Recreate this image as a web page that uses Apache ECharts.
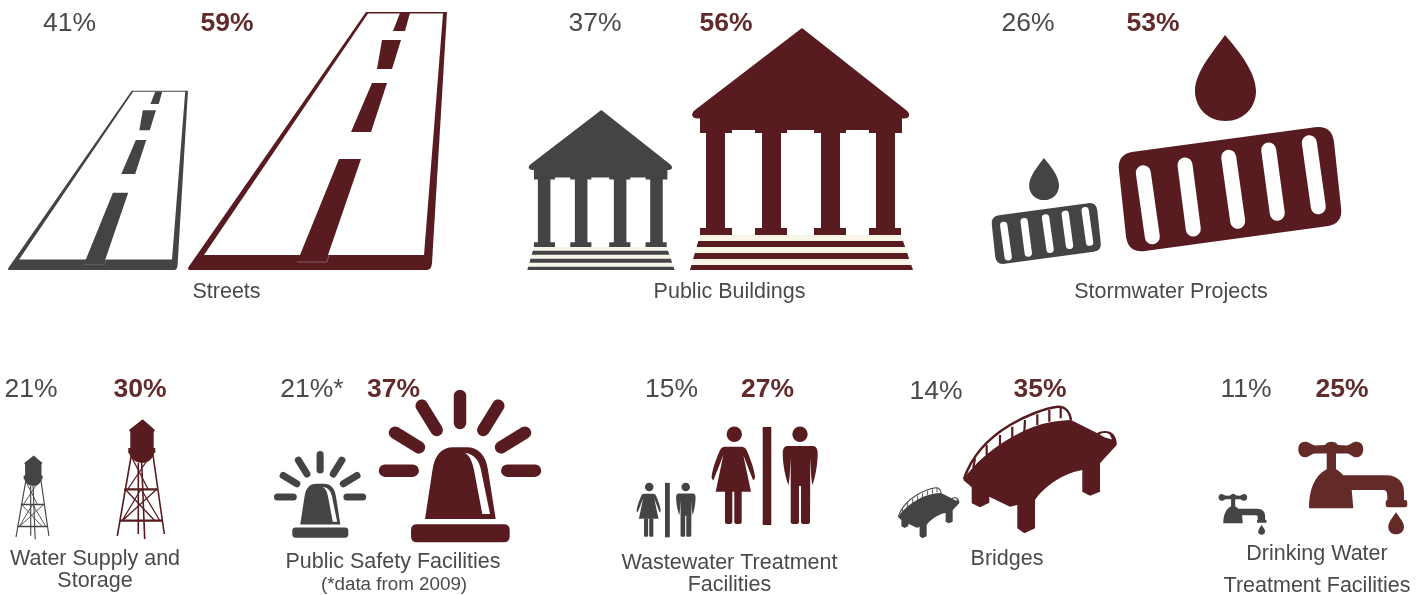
<!DOCTYPE html>
<html><head><meta charset="utf-8">
<style>html,body{margin:0;padding:0;background:#fff}#c{width:1427px;height:595px}</style>
<script src="https://cdn.jsdelivr.net/npm/echarts@6/dist/echarts.min.js"></script>
</head><body><div id="c"></div>
<script>
// ---- data ----
const categories = ['Streets','Public Buildings','Stormwater Projects','Water Supply and Storage','Public Safety Facilities','Wastewater Treatment Facilities','Bridges','Drinking Water Treatment Facilities'];
const earlierValues = [41,37,26,21,21,15,14,11];
const laterValues   = [59,56,53,30,37,27,35,25];
const earlierSuffix = ['%','%','%','%','%*','%','%','%'];
const captionLines = [['Streets'],['Public Buildings'],['Stormwater Projects'],['Water Supply and','Storage'],['Public Safety Facilities'],['Wastewater Treatment','Facilities'],['Bridges'],['Drinking Water','Treatment Facilities']];
const footnote = '(*data from 2009)';

// ---- layout (page pixels) ----
const INK_A='#444446', INK_B='#581c20', TXT_A='#4a4a4c', TXT_B='#622b2b', TAP_B='#632a28', CREAM='#f8f4e6';
const earlierAnchor = [[8,270],[527.3,270],[990.7,265],[16,539.3],[292.3,537.7],[665,537.3],[898,538.3],[1223.3,523.3]];
const laterAnchor   = [[188,270],[690,270],[1116.7,253.3],[117.3,539],[411,542.3],[762.7,525],[963.3,533.3],[1309,508.3]];
const earlierLabelPos = [[69.5,24],[595,24],[1028,24],[31,390],[312,390],[671.5,390],[936,392],[1246,390]];
const laterLabelPos   = [[227,24],[726,24],[1153,24],[140,390],[393.5,390],[767.5,390],[1040,390],[1342,390]];
const captionPos = [[[226.5,292.5]],[[729.5,292.5]],[[1171,292.5]],[[95,559.5],[95,581.5]],[[393,562.5]],[[729.5,563.5],[729.5,585.5]],[[1007,559.5]],[[1317,554.5],[1317,586.5]]];
const footnotePos = [394,584.5];

// ---- icon shapes: drawn once in the larger icon's frame; scaled by value ratio ----
const icons = [
 // road
 [{d:'M366,12 L447,12 L432,263 Q431.5,270 427,270 L190,270 Q187,270 188.5,267 Z'},
  {d:'M368,13.5 L443,13.5 L424,255 L204,255 Z',fill:'white'},
  {d:'M339,159 L361,159 L328,255 L327,262 L297,262 L300,255 Z'},
  {d:'M297,262 L327,262 L329,255',stroke:'#a89a9a',w:0.5},
  {d:'M372,83 L387,83 L371,132 L351,132 Z'},
  {d:'M382,40 L401,40 L392,69 L377,69 Z'},
  {d:'M400,13 L410,13 L405,31 L393,31 Z'}],
 // building
 [{d:'M802,28 L906,110 Q910,113 909,116 Q908,118.5 904,118.5 L902,118.5 L902,133 L869,133 L869,130 L846,130 L846,133 L814,133 L814,130 L787,130 L787,133 L755,133 L755,130 L732,130 L732,133 L700,133 L700,118.5 L698,118.5 Q693,118.5 692,115 Q692,112 695,110 Z'},
  {d:'M706,130 H725 V229 H706 Z M762,130 H781 V229 H762 Z M821,130 H840 V229 H821 Z M876,130 H895 V229 H876 Z'},
  {d:'M700,228 H732 V235 H700 Z M755,228 H787 V235 H755 Z M814,228 H846 V235 H814 Z M869,228 H901 V235 H869 Z'},
  {d:'M700,235 L901,235 L903,241 L698.3,241 Z M696.6,247 L905.1,247 L907.2,253 L694.9,253 Z M693.1,259 L909.2,259 L911.3,265 L691.4,265 Z',fill:'cream'},
  {d:'M698.3,241 L903,241 L905.1,247 L696.6,247 Z M694.9,253 L907.2,253 L909.2,259 L693.1,259 Z M691.4,265 L911.3,265 L913,270 L690,270 Z'}],
 // drain and drop
 [{d:'M1225,35 C1213,52 1195,72 1195,91 C1195,108 1208,121 1225.5,121 C1243,121 1256,108 1256,91 C1256,72 1238,50 1225,35 Z'},
  {d:'M1133.5,151.7 L1314.9,127.3 Q1331.7,125 1334,141.8 L1341,207.2 Q1343.3,224 1326.5,226.3 L1145.1,251 Q1128.3,253.3 1126,236.5 L1119,170.8 Q1116.7,154 1133.5,151.7 Z'},
  {d:'M1143.3,172.7 L1152.3,236.7 M1185,165 L1193.3,229 M1228.7,157.3 L1237.7,221.3 M1268.7,150 L1277.3,213.3 M1309.3,142.7 L1318.3,206.7',stroke:'white',w:15,cap:'round'}],
 // water tower
 [{d:'M142.7,419.3 L155,430 L153.7,432 L153.7,448 L155.3,448 L155.3,453 L154,453 C153,459 148,463 142,463 C136,463 131,459 130,453 L128.3,453 L128.3,448 L130.3,448 L130.3,432 L129,430 Z'},
  {d:'M131.7,453 L117.3,536 M152.7,453 L164.3,534 M141.7,463 L144.7,539 M138.3,463 L138.3,534',stroke:'ink',w:1.6},
  {d:'M124.3,489.3 L157.3,489.3 M120,520.7 L162,520.7',stroke:'ink',w:2.2},
  {d:'M129,452 L148,489 M152,453 L128,489 M125,489 L155,521 M157,489 L122,521 M141,489 L122,521 M141,489 L160,521',stroke:'ink',w:1.3}],
 // beacon
 [{d:'M460,396 L460,423 M421.7,405.7 L436.7,430 M498.3,405.7 L483.3,430 M395,432.7 L419,447.3 M525,432.7 L501,447.3 M385,470.7 L412.7,470.7 M507.3,470.7 L535,470.7',stroke:'ink',w:12.5,cap:'round'},
  {d:'M425,519 L432.5,470 C434.5,455 442,447.3 453,447.3 L467,447.3 C478,447.3 486,455 488,470 L495.7,519 Z'},
  {d:'M465,453 C474,454 479,460 481,470 L490,514 L482.3,514 L474,470 C472,461 470,456 465,453 Z',fill:'white'},
  {d:'M417,524.3 L503.7,524.3 Q509.7,524.3 509.7,530 L509.7,536.3 Q509.7,542.3 503.7,542.3 L417,542.3 Q411,542.3 411,536.3 L411,530 Q411,524.3 417,524.3 Z'}],
 // restroom sign
 [{d:'M742,434.3 A7.7,7.7 0 1 1 726.6,434.3 A7.7,7.7 0 1 1 742,434.3 Z M807.7,434.3 A7.7,7.7 0 1 1 792.3,434.3 A7.7,7.7 0 1 1 807.7,434.3 Z'},
  {d:'M762.7,427 H771.3 V525 H762.7 Z'},
  {d:'M725,446.7 L741.6,446.7 C744,446.7 745.5,448 747,451 C750,458 754,468 755,476.7 C755,479 754,480 753,480 C749,470 746,462 743.3,455 L751,491.7 L715.7,491.7 L723.3,455 C720.6,462 717.6,470 713.5,480 C712.5,480 711.6,479 711.6,476.7 C712.6,468 716.6,458 719.6,451 C721,448 722.6,446.7 725,446.7 Z'},
  {d:'M725,491 H732.3 V522 Q732.3,524 730,524 H727 Q725,524 725,522 Z M734.3,491 H741.7 V522 Q741.7,524 739.5,524 H736.5 Q734.3,524 734.3,522 Z'},
  {d:'M787,446 L813,446 C816,446 817.7,449 817.7,453 C817.7,465 815,478 812.5,485 C811,480 811,468 810.3,458 L810,522 Q810,524 807,524 L803,524 Q801,524 801,522 L801,486 L799,486 L799,522 Q799,524 797,524 L793,524 Q790.7,524 790.7,522 L790.7,458 C790,468 790,480 788.3,485 C785.7,478 782.7,465 782.7,453 C782.7,449 784.5,446 787,446 Z'}],
 // bridge
 [{d:'M963.3,480 C975,462 1000,440 1033,427 C1045,422.5 1058,420.5 1071,420 L1097,433 C1102,430 1111,430 1114,435 C1116,438 1117,441 1116.7,445 L1100,463.3 L1100,491.7 L1090,495.7 L1082.3,491.7 L1082.3,470 C1065,473 1045,485 1035,500 L1035,528.3 L1024.3,533.3 L1017.3,528.3 L1017.3,505 L1010,506.7 L989.3,496.7 L989.3,502.7 L980,507.3 L971.7,503.3 L971.7,487.3 Z'},
  {d:'M1099.5,434.5 C1103,432.5 1108,432.5 1110,435 L1112,439.5 L1105,437.5 Z',fill:'white'},
  {d:'M964,479 C972,455 990,437 1010,425 C1025,416 1045,408 1058,406.7 C1066,406.5 1070,413 1071,420',stroke:'ink',w:2.6},
  {d:'M975,458.3 L973.3,468 M986.7,445 L986.7,455 M1000,435 L1000,446.7 M1012.3,426.7 L1012.3,438.3 M1025,420 L1024.3,431.7 M1037.3,414.3 L1037.3,425 M1049.3,410 L1049.3,421.7 M1060.7,407.7 L1060.7,418.3',stroke:'ink',w:2.2}],
 // tap
 [{d:'M1298.3,449.3 C1298.3,444.5 1301,441.7 1305,441.7 C1309,441.7 1311,444.5 1315,445.5 L1325,445 C1326.5,442.5 1329,441.7 1331.5,441.7 C1334,441.7 1336.5,442.5 1338,445 L1347,445.5 C1351,444.5 1352,441.7 1356.5,441.7 C1360.5,441.7 1363.3,444.5 1363.3,449.3 C1363.3,454 1360.5,457.3 1356.5,457.3 C1352,457.3 1351,454 1347,453.5 L1336,453.5 L1336,469.3 C1339,471 1341,473 1343.3,475.3 L1386.7,475.3 C1397,475.3 1404,482 1404,491.7 L1404,500 L1405,500 Q1407.3,500 1407.3,503 L1407.3,504.5 Q1407.3,507.3 1405,507.3 L1388,507.3 Q1385.7,507.3 1385.7,504.5 L1385.7,503 Q1385.7,500 1387.3,500 L1387.3,495 C1387.3,492 1386,490 1383.3,490 L1351.7,490 L1353.3,508.3 L1309,508.3 C1309,490 1314,476 1326.7,469.3 L1326.7,453.5 L1315,453.5 C1311,454 1309,457.3 1305,457.3 C1301,457.3 1298.3,454 1298.3,449.3 Z',tone:'tap'},
  {d:'M1396,512.3 C1393,517 1388.3,522 1388.3,527 C1388.3,531.5 1391.5,534.3 1396,534.3 C1400.5,534.3 1404,531.5 1404,527 C1404,522 1399,517 1396,512.3 Z',tone:'tap'}]
];

const anchorsFor = s => s === 0 ? earlierAnchor : laterAnchor;
function tone(name, ink){
  if (name === 'ink' || name === undefined) return ink;
  return name === 'cream' ? CREAM : name === 'white' ? '#fff' : name;
}
function iconElement(i, series, api){
  const v = series === 0 ? earlierValues[i] : laterValues[i];
  const s = v / laterValues[i];
  const a = api.coord(anchorsFor(series)[i]);
  const b = laterAnchor[i];
  const children = icons[i].map(p => {
    const ink = series === 0 ? INK_A : (p.tone === 'tap' ? TAP_B : INK_B);
    const style = p.stroke
      ? {fill:null, stroke:tone(p.stroke, ink), lineWidth:p.w, lineCap:p.cap||'butt'}
      : {fill:tone(p.fill, ink), stroke:null};
    return {type:'path', shape:{pathData:p.d}, style};
  });
  return {type:'group', x:a[0]-s*b[0], y:a[1]-s*b[1], scaleX:s, scaleY:s, children};
}
function pctElement(i, series, api){
  const v = series === 0 ? earlierValues[i] : laterValues[i];
  const p = api.coord((series === 0 ? earlierLabelPos : laterLabelPos)[i]);
  const suffix = series === 0 ? earlierSuffix[i] : '%';
  return {type:'text', style:{text:v+suffix, x:p[0], y:p[1], align:'center', verticalAlign:'middle',
    fill: series === 0 ? TXT_A : TXT_B,
    font:(series === 0 ? '' : 'bold ')+'26.5px "Liberation Sans", Arial, sans-serif'}};
}
function renderValue(series){
  return (params, api) => {
    const i = api.value(0);
    return {type:'group', children:[iconElement(i, series, api), pctElement(i, series, api)]};
  };
}
function renderCaption(params, api){
  const i = api.value(0);
  const children = captionLines[i].map((t, k) => {
    const p = api.coord(captionPos[i][k]);
    return {type:'text', style:{text:t, x:p[0], y:p[1], align:'center', verticalAlign:'middle', fill:TXT_A,
      font:'21.5px "Liberation Sans", Arial, sans-serif'}};
  });
  if (categories[i] === 'Public Safety Facilities') {
    const p = api.coord(footnotePos);
    children.push({type:'text', style:{text:footnote, x:p[0], y:p[1], align:'center', verticalAlign:'middle', fill:TXT_A,
      font:'18.8px "Liberation Sans", Arial, sans-serif'}});
  }
  return {type:'group', children};
}
const idx = categories.map((c, i) => [i]);
const chart = echarts.init(document.getElementById('c'), null, {renderer:'canvas'});
chart.setOption({
  backgroundColor:'#fff', animation:false,
  grid:{left:0,right:0,top:0,bottom:0},
  xAxis:{type:'value',min:0,max:1427,show:false},
  yAxis:{type:'value',min:0,max:595,inverse:true,show:false},
  tooltip:{show:false},
  series:[
    {type:'custom',name:'Earlier',coordinateSystem:'cartesian2d',data:idx,encode:{x:0,y:0},clip:false,silent:true,renderItem:renderValue(0)},
    {type:'custom',name:'Later',coordinateSystem:'cartesian2d',data:idx,encode:{x:0,y:0},clip:false,silent:true,renderItem:renderValue(1)},
    {type:'custom',name:'Captions',coordinateSystem:'cartesian2d',data:idx,encode:{x:0,y:0},clip:false,silent:true,renderItem:renderCaption}
  ]
});
</script></body></html>
